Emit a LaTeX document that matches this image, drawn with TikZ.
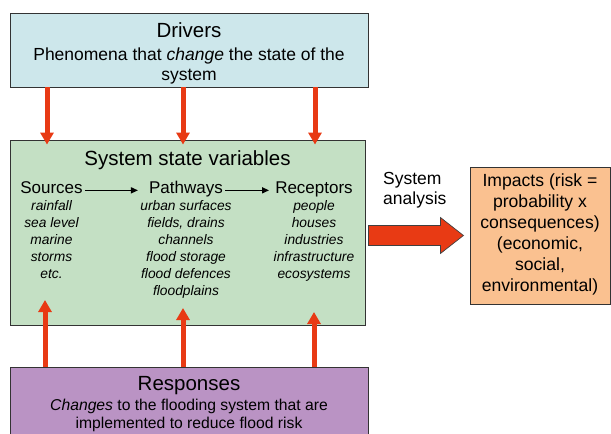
\documentclass[tikz,border=0pt]{standalone}
\usepackage{fontspec}
\setmainfont{Liberation Sans}
\usetikzlibrary{arrows.meta}
\usetikzlibrary{calc}

\definecolor{driverblue}{RGB}{205,231,235}
\definecolor{stategreen}{RGB}{196,224,196}
\definecolor{responsepurple}{RGB}{186,147,196}
\definecolor{impactorange}{RGB}{250,193,144}
\definecolor{flowred}{RGB}{232,58,20}

\tikzset{
	box/.style={draw=black!80, line width=0.9pt, inner sep=0pt},
	title/.style={font=\fontsize{20.5}{24}\selectfont, anchor=base, inner sep=0pt},
	body/.style={font=\fontsize{17.5}{20}\selectfont, align=center, anchor=base, inner sep=0pt},
	head/.style={font=\fontsize{17}{20}\selectfont, anchor=base, inner xsep=2pt, inner ysep=0pt, text height=0.75em, text depth=0.22em},
	items/.style={font=\fontsize{13.8}{17}\selectfont\itshape, align=center, anchor=north, inner sep=0pt},
	redflow/.style={flowred, line width=5pt, -{Triangle[width=13pt,length=12pt]}}
}

\begin{document}
\begin{tikzpicture}[x=1pt, y=-1pt]
\useasboundingbox (0,0) rectangle (611,434);
\clip (0,0) rectangle (611,434);

\node[box, fill=driverblue, minimum width=358pt, minimum height=74pt] (drivers) at (189,50) {};
\node[box, fill=stategreen, minimum width=355pt, minimum height=185pt] (state) at (187.5,232.5) {};
\node[box, fill=impactorange, minimum width=140pt, minimum height=137pt] (impacts) at (540,235.5) {};
\node[box, fill=responsepurple, minimum width=358pt, minimum height=78pt] (responses) at (189,406) {};

\node[title] (drivertitle) at (189,37) {Drivers};
\node[body, anchor=north] (drivertext) at (189,47.3) {Phenomena that \textit{change} the state of the\\system};

\node[title] (statetitle) at (187.5,165) {System state variables};
\node[head] (sources) at (51.5,193) {Sources};
\node[head] (pathways) at (186,193) {Pathways};
\node[head] (receptors) at (314,193) {Receptors};
\node[items] (sourcelist) at (51.5,200) {rainfall\\sea level\\marine\\storms\\etc.};
\node[items] (pathwaylist) at (186,200) {urban surfaces\\fields, drains\\channels\\flood storage\\flood defences\\floodplains};
\node[items] (receptorlist) at (314,200) {people\\houses\\industries\\infrastructure\\ecosystems};

\node[body, align=left, anchor=north west] (analysis) at (383,172.2) {System\\analysis};
\node[body, font=\fontsize{17.6}{21}\selectfont, anchor=north] (impacttext) at (540,173.9) {Impacts (risk =\\probability x\\consequences)\\(economic,\\social,\\environmental)};

\node[title] (responsetitle) at (189,390) {Responses};
\node[body, font=\fontsize{15.7}{18}\selectfont, anchor=north] (responsetext) at (189,398.6) {\textit{Changes} to the flooding system that are\\implemented to reduce flood risk};

\path[->, >={Triangle[length=7pt,width=6pt]}, line width=1.4pt]
(sources) edge [shorten >=9pt] (pathways)
(pathways) edge [shorten >=4pt] (receptors)
;

\foreach \x in {47,183,315}
	\draw[redflow] (drivers.south -| \x,0) -- ($(state.north -| \x,0)+(0,5)$);

\foreach \x/\y [count=\i] in {45/300,183/308,314/312} {
	\coordinate (tip\i) at (\x,\y);
	\draw[redflow] (responses.north -| tip\i) -- (tip\i);
}

\draw[fill=flowred, draw=black!75, line width=0.7pt] ($(state.east |- impacts.west)+(3,-10)$) -- ++(72,0) -- ++(0,-8) -- ++(23,18) -- ++(-23,18) -- ++(0,-8) -- ++(-72,0) -- cycle;
\end{tikzpicture}
\end{document}
